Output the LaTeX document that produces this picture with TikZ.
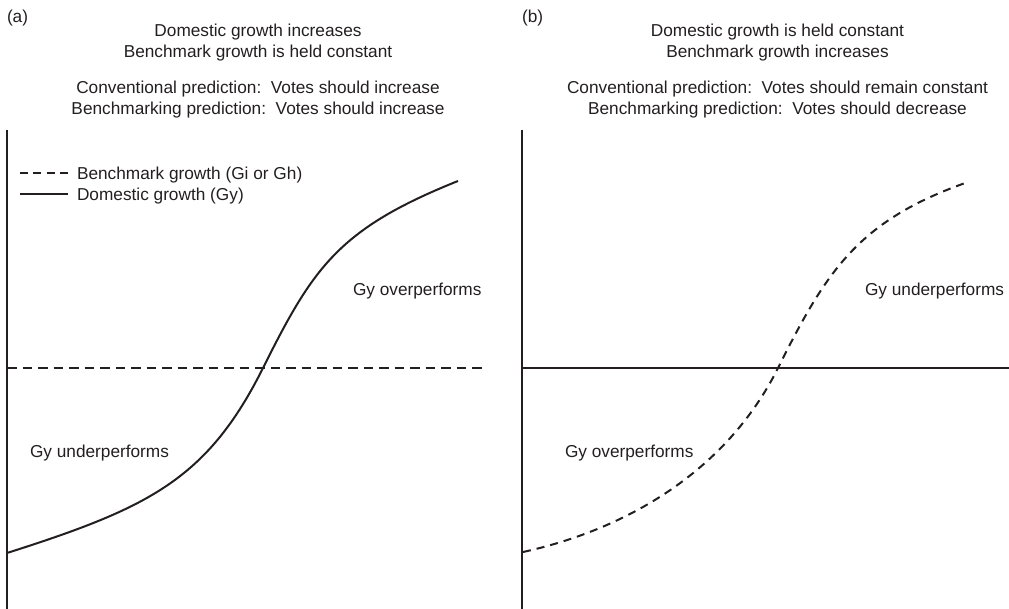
\documentclass[tikz,border=0pt]{standalone}
\usepackage{fontspec}
\setmainfont{Liberation Sans}
\definecolor{ink}{HTML}{231F20}
\begin{document}
\begin{tikzpicture}[x=1pt,y=-1pt,
  every node/.style={inner sep=0pt, outer sep=0pt, text=ink, font=\fontsize{17.25}{21}\selectfont},
  ln/.style={line width=2pt, draw=ink},
  dshline/.style={ln, dash pattern=on 9.5pt off 6pt},
  dshcurve/.style={ln, dash pattern=on 8pt off 6pt},
  dshlegend/.style={ln, dash pattern=on 8pt off 5.33pt},
  ttl/.style={anchor=base},
  lbl/.style={anchor=base west}]
\useasboundingbox (0,0) rectangle (1009,608);

% ---------- panel (a) ----------
\node[lbl] (pa) at (7,22) {(a)};
\node[ttl] (ta1) at (258,36) {Domestic growth increases};
\node[ttl] (ta2) at (258,57) {Benchmark growth is held constant};
\node[ttl] (ta3) at (258,93) {Conventional prediction:\ \ Votes should increase};
\node[ttl] (ta4) at (258,114) {Benchmarking prediction:\ \ Votes should increase};

\coordinate (axa1) at (7,130);
\coordinate (axa2) at (7,610);
\draw[ln] (axa1) -- (axa2);

\coordinate (lg1a) at (20,173);
\coordinate (lg1b) at (68,173);
\draw[dshlegend] (lg1a) -- (lg1b);
\node[lbl] (lgt1) at (77,179) {Benchmark growth (Gi or Gh)};
\coordinate (lg2a) at (20,194);
\coordinate (lg2b) at (68,194);
\draw[ln] (lg2a) -- (lg2b);
\node[lbl] (lgt2) at (77,200) {Domestic growth (Gy)};

\coordinate (ha1) at (7,368);
\coordinate (ha2) at (485,368);
\draw[dshline] (ha1) -- (ha2);

\coordinate (ca0) at (7,553);
\coordinate (ca1) at (263,368);
\coordinate (ca2) at (458,181);
\draw[ln] (ca0) .. controls (148,508) and (207,480) .. (ca1)
                .. controls (313,268) and (338,229) .. (ca2);

\node[lbl] (oa) at (353,295) {Gy overperforms};
\node[lbl] (ua) at (30,457) {Gy underperforms};

% ---------- panel (b) ----------
\node[lbl] (pb) at (522,22) {(b)};
\node[ttl] (tb1) at (777.5,36) {Domestic growth is held constant};
\node[ttl] (tb2) at (777.5,57) {Benchmark growth increases};
\node[ttl] (tb3) at (777.5,93) {Conventional prediction:\ \ Votes should remain constant};
\node[ttl] (tb4) at (777.5,114) {Benchmarking prediction:\ \ Votes should decrease};

\coordinate (axb1) at (522,130);
\coordinate (axb2) at (522,610);
\draw[ln] (axb1) -- (axb2);

\coordinate (hb1) at (522,368);
\coordinate (hb2) at (1010,368);
\draw[ln] (hb1) -- (hb2);

\coordinate (cb0) at (523,552);
\coordinate (cb1) at (778,368);
\coordinate (cb2) at (968,182);
\draw[dshcurve] (cb0) .. controls (626.7,529.2) and (726.3,471.4) .. (cb1)
                      .. controls (826.6,270.8) and (858.1,220.5) .. (cb2);

\node[lbl] (ob) at (565,457) {Gy overperforms};
\node[lbl] (ub) at (865,295) {Gy underperforms};
\end{tikzpicture}
\end{document}
